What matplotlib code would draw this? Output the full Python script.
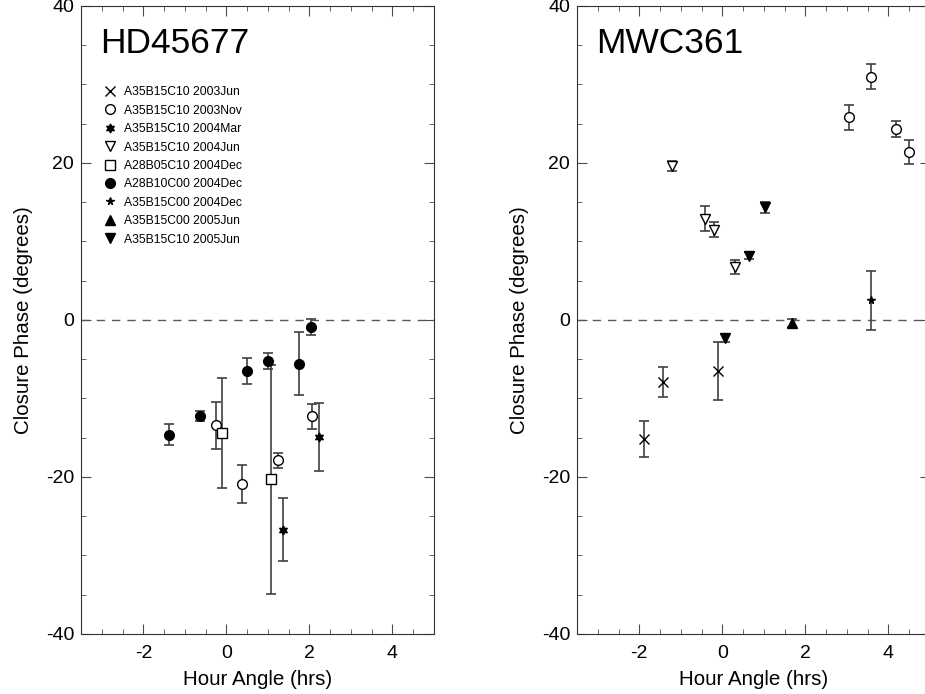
import matplotlib
matplotlib.use("Agg")
import matplotlib.pyplot as plt
from matplotlib.ticker import MultipleLocator

plt.rcParams["font.family"] = ["Liberation Sans", "DejaVu Sans"]
plt.rcParams["axes.unicode_minus"] = False

# legend order: (label, marker, facecolor)
LABELS = ["A35B15C10 2003Jun", "A35B15C10 2003Nov", "A35B15C10 2004Mar",
          "A35B15C10 2004Jun", "A28B05C10 2004Dec", "A28B10C00 2004Dec",
          "A35B15C00 2004Dec", "A35B15C00 2005Jun", "A35B15C10 2005Jun"]
MARKERS = ["x", "o", (6, 1, 0), "v", "s", "o", "*", "^", "v"]
FILLED = [False, False, True, False, False, True, True, True, True]
SIZES = [7, 7, 6.5, 7, 6.5, 7, 5.5, 6.5, 6.5]

# HD45677: series index -> hour angle, closure phase, error
HD_HA = {
    1: [-0.26, 0.37, 1.24, 2.07],
    2: [1.36, 2.23],
    4: [-0.10, 1.07],
    5: [-1.37, -0.64, 0.50, 1.00, 1.74, 2.04],
}
HD_CP = {
    1: [-13.4, -20.9, -17.9, -12.3],
    2: [-26.7, -14.9],
    4: [-14.4, -20.3],
    5: [-14.6, -12.2, -6.5, -5.2, -5.6, -0.9],
}
HD_ERR = {
    1: [3.0, 2.4, 1.0, 1.6],
    2: [4.0, 4.3],
    4: [7.0, 14.6],
    5: [1.35, 0.65, 1.6, 1.05, 4.0, 1.05],
}

# MWC361
MWC_HA = {
    0: [-1.88, -1.44, -0.10],
    1: [3.05, 3.59, 4.17, 4.49],
    3: [-1.22, -0.43, -0.21, 0.30],
    6: [3.58],
    7: [1.68],
    8: [0.06, 0.65, 1.03],
}
MWC_CP = {
    0: [-15.2, -7.9, -6.5],
    1: [25.8, 31.0, 24.3, 21.4],
    3: [19.6, 12.9, 11.5, 6.7],
    6: [2.5],
    7: [-0.35],
    8: [-2.3, 8.2, 14.35],
}
MWC_ERR = {
    0: [2.3, 1.9, 3.7],
    1: [1.55, 1.6, 1.0, 1.5],
    3: [0.65, 1.6, 1.0, 0.9],
    6: [3.75],
    7: [0.5],
    8: [0.45, 0.5, 0.7],
}

FS = 14


def style_axes(ax, title):
    ax.set_xlim(-3.5, 5)
    ax.set_ylim(-40, 40)
    ax.xaxis.set_major_locator(MultipleLocator(2))
    ax.xaxis.set_minor_locator(MultipleLocator(0.5))
    ax.yaxis.set_major_locator(MultipleLocator(20))
    ax.yaxis.set_minor_locator(MultipleLocator(5))
    ax.tick_params(which="both", direction="in", top=True, right=True,
                   labelsize=FS, color="0.3")
    ax.tick_params(which="major", length=7)
    ax.tick_params(which="minor", length=3.5)
    ax.tick_params(axis="x", pad=8)
    ax.tick_params(axis="y", pad=5)
    for s in ax.spines.values():
        s.set_color("0.2")
    ax.axhline(0, color="0.35", ls=(0, (6, 5)), lw=1)
    ax.set_xlabel("Hour Angle (hrs)", fontsize=14.8, labelpad=6)
    ax.set_ylabel("Closure Phase (degrees)", fontsize=14.8, labelpad=9)
    ax.text(0.055, 0.9247, title, transform=ax.transAxes, fontsize=25.5,
            va="baseline", ha="left")


def draw(ax, ha, cp, err):
    for i in ha:
        ax.errorbar(ha[i], cp[i], yerr=err[i], fmt="none", ecolor="0.25",
                    elinewidth=1.2, capsize=3.7, capthick=1.2, zorder=2)
        ax.plot(ha[i], cp[i], ls="none", marker=MARKERS[i], ms=SIZES[i],
                mfc="k" if FILLED[i] else "white", mec="k", mew=1.0, zorder=3)


fig = plt.figure(figsize=(9.25, 6.94), dpi=100)
ax1 = fig.add_axes([0.0876, 0.0865, 0.3816, 0.905])
ax2 = fig.add_axes([0.6238, 0.0865, 0.3816, 0.905])

style_axes(ax1, "HD45677")
style_axes(ax2, "MWC361")
draw(ax1, HD_HA, HD_CP, HD_ERR)
draw(ax2, MWC_HA, MWC_CP, MWC_ERR)

handles = []
for i, lab in enumerate(LABELS):
    h, = ax1.plot([], [], ls="none", marker=MARKERS[i], ms=SIZES[i],
                  mfc="k" if FILLED[i] else "white", mec="k", mew=1.0, label=lab)
    handles.append(h)
ax1.legend(handles=handles, loc="upper left", bbox_to_anchor=(0.069, 0.872),
           frameon=False, fontsize=8.7, handlelength=0.8, handletextpad=0.75,
           labelspacing=0.53, borderaxespad=0, borderpad=0)

fig.savefig("out.png", dpi=100)
